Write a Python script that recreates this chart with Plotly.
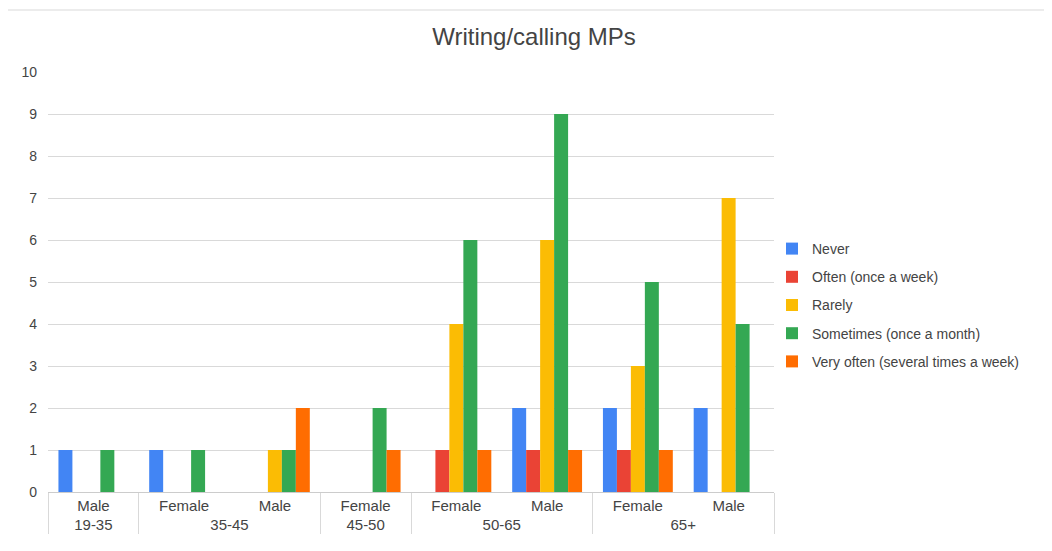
import plotly.graph_objects as go

age_groups = ["19-35", "35-45", "35-45", "45-50", "50-65", "50-65", "65+", "65+"]
genders = ["Male", "Female", "Male", "Female", "Female", "Male", "Female", "Male"]

series_names = ["Never", "Often (once a week)", "Rarely", "Sometimes (once a month)",
                "Very often (several times a week)"]
never = [1, 1, 0, 0, 0, 2, 2, 2]
often = [0, 0, 0, 0, 1, 1, 1, 0]
rarely = [0, 0, 1, 0, 4, 6, 3, 7]
sometimes = [1, 1, 1, 2, 6, 9, 5, 4]
very_often = [0, 0, 2, 1, 1, 1, 1, 0]
colors = ["#4285F4", "#EA4335", "#FBBC04", "#34A853", "#FF6D01"]

# Plotly orders inner categories by first appearance; give the lone first-group
# label an invisible zero-width suffix so "Female" sorts before "Male" elsewhere.
inner_labels = [g + "\u200b" if i == 0 else g for i, g in enumerate(genders)]

fig = go.Figure()
for i, (name, vals, col) in enumerate(zip(series_names, [never, often, rarely, sometimes, very_often], colors)):
    fig.add_trace(go.Bar(x=[age_groups, inner_labels], y=vals, name=name, legendgroup=f"g{i}",
                         marker=dict(color=col, line=dict(width=0))))

OFF = 8  # page body margin
W, H = 1052 - OFF, 551 - OFF
ml, mr, mt, mb = 48 - OFF, 278, 72 - OFF, 59
pw, ph = W - ml - mr, H - mt - mb

fig.update_layout(
    width=W, height=H,
    margin=dict(l=ml, r=mr, t=mt, b=mb, autoexpand=False),
    paper_bgcolor="white", plot_bgcolor="white",
    barmode="group", bargap=0.23, bargroupgap=0,
    font=dict(family="Liberation Sans, Arial, sans-serif", size=14, color="#444444"),
    title=dict(text="Writing/calling MPs", x=(534 - OFF) / W, xanchor="center",
               y=1 - (37 - OFF) / H, yanchor="middle",
               font=dict(size=24, color="#444444")),
    legend=dict(x=(772 - 48) / pw, xanchor="left", y=(492 - 305) / ph, yanchor="middle",
                font=dict(size=14, color="#444444"), tracegroupgap=7,
                itemwidth=30, bgcolor="rgba(0,0,0,0)"),
    xaxis=dict(type="multicategory", showline=True, linecolor="#cccccc",
               showdividers=True, dividercolor="#d9d9d9", dividerwidth=1,
               tickfont=dict(size=15, color="#444444"), ticks="", automargin=False),
    yaxis=dict(range=[0, 10], dtick=1, showgrid=True, gridcolor="#d9d9d9",
               zeroline=False, tickfont=dict(size=14, color="#444444"),
               ticklabelstandoff=10, automargin=False),
    shapes=[dict(type="rect", xref="paper", yref="paper",
                 x0=(3 - 48) / pw, x1=(1052 + 20 - 48) / pw,
                 y0=-0.5, y1=1 + (72 - 10) / ph,
                 line=dict(color="#d9d9d9", width=1), layer="below")],
)

fig.write_html("out.html")
